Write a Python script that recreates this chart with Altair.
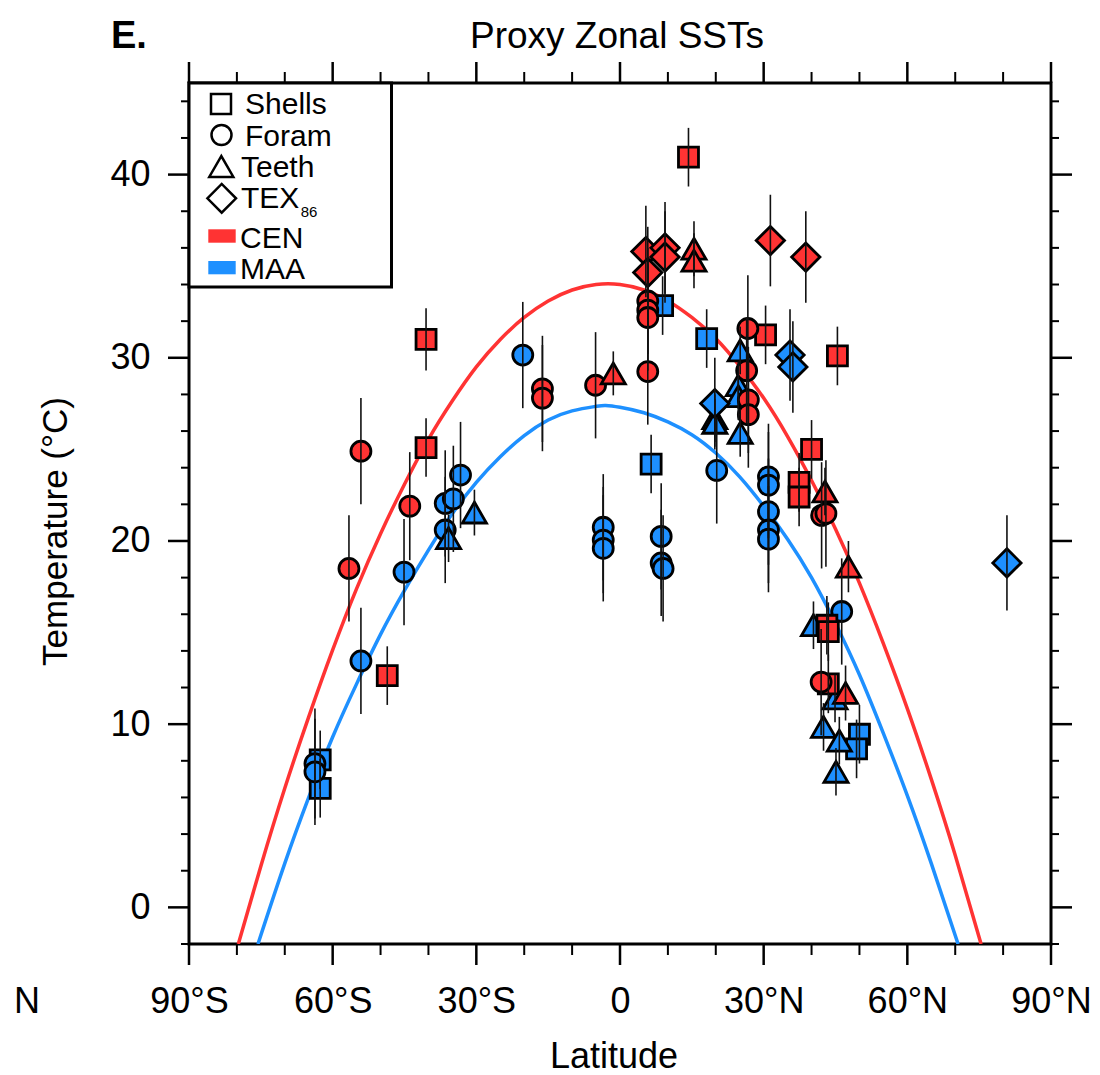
import altair as alt
import pandas as pd

# ---------------- proxy data ----------------
# MAA (blue)
maa_shells_lat = [-62.6, -62.6, 8.9, 18.1, 6.5, 50.0, 49.4]
maa_shells_temp = [8.05, 6.5, 32.85, 31.05, 24.2, 9.45, 8.65]
maa_shells_err = [1.6, 1.6, 1.6, 1.6, 1.6, 1.6, 1.6]

maa_foram_lat = [-63.7, -63.7, -54.1, -45.1, -36.5, -36.5, -34.8, -33.3, -20.3, -3.5, -3.5, -3.5,
                 8.6, 8.6, 9.0, 20.2, 31.0, 31.0, 31.0, 31.0, 31.0, 46.3]
maa_foram_temp = [7.85, 7.4, 13.45, 18.3, 22.05, 20.6, 22.3, 23.6, 30.15, 20.75, 20.05, 19.6,
                  20.25, 18.8, 18.5, 23.85, 23.5, 23.05, 21.6, 20.6, 20.1, 16.15]
maa_foram_err = [3.0, 2.9, 2.9, 2.9, 2.9, 2.9, 2.9, 2.9, 2.9, 2.9, 2.9, 2.9,
                 2.9, 2.9, 2.9, 2.9, 2.9, 2.9, 2.9, 2.9, 2.9, 2.9]

maa_teeth_lat = [-35.8, -30.4, 25.1, 24.7, 24.7, 25.1, 19.8, 19.8, 40.4, 44.9, 42.5, 45.8, 45.1]
maa_teeth_temp = [20.15, 21.55, 30.4, 28.5, 27.9, 25.9, 26.7, 26.45, 15.4, 11.4, 9.85, 9.1, 7.4]
maa_teeth_err = [1.3, 1.25, 1.3, 1.3, 1.3, 1.3, 1.3, 1.3, 1.3, 1.3, 1.3, 1.3, 1.3]

maa_tex_lat = [19.8, 35.5, 36.1, 80.8]
maa_tex_temp = [27.5, 30.15, 29.5, 18.8]
maa_tex_err = [2.5, 2.5, 2.5, 2.6]

# CEN (red)
cen_shells_lat = [-40.5, -40.5, -48.6, 14.3, 30.4, 45.4, 37.4, 37.4, 40.0, 43.2, 43.5, 43.5]
cen_shells_temp = [31.0, 25.1, 12.65, 40.95, 31.25, 30.1, 23.2, 22.4, 25.0, 15.4, 15.05, 12.2]
cen_shells_err = [1.7, 1.6, 1.6, 1.6, 1.6, 1.6, 1.6, 1.6, 1.6, 1.6, 1.6, 1.6]

cen_foram_lat = [-54.1, -56.6, -43.9, -16.2, -16.2, -5.1, 5.8, 5.8, 5.8, 5.8, 26.7, 26.45,
                 26.8, 26.8, 42.1, 43.0, 42.0]
cen_foram_temp = [24.9, 18.5, 21.9, 28.3, 27.8, 28.5, 33.1, 32.6, 32.2, 29.25, 31.6, 29.3,
                  27.7, 26.9, 21.4, 21.5, 12.3]
cen_foram_err = [2.9, 2.9, 2.95, 2.9, 2.9, 2.9, 2.9, 2.9, 2.9, 2.9, 2.9, 2.9,
                 2.9, 2.9, 2.9, 2.9, 2.9]

cen_teeth_lat = [-1.4, 15.45, 15.45, 42.8, 47.7, 47.1]
cen_teeth_temp = [29.15, 35.95, 35.3, 22.7, 18.6, 11.7]
cen_teeth_err = [1.2, 1.5, 1.5, 1.3, 1.4, 1.5]

cen_tex_lat = [5.4, 9.4, 9.4, 5.8, 31.4, 38.8]
cen_tex_temp = [35.8, 36.0, 35.5, 34.65, 36.4, 35.5]
cen_tex_err = [2.5, 2.5, 2.5, 2.5, 2.5, 2.5]

# fitted zonal curves
cen_curve_lat = [-79.7, -75, -70, -65, -60, -55, -50, -45, -40, -35, -30, -25, -20, -15, -10, -5,
                 0, 5, 10, 15, 20, 25, 30, 35, 40, 45, 50, 55, 60, 65, 70, 75.4]
cen_curve_temp = [-2, 2.25, 6.5, 10.4, 14.05, 17.4, 20.4, 23.1, 25.55, 27.65, 29.5, 31.0, 32.2,
                  33.1, 33.7, 34.0, 34.0, 33.7, 33.1, 32.2, 31.05, 29.55, 27.8, 25.7, 23.3,
                  20.65, 17.7, 14.4, 10.85, 7.0, 2.85, -2]
maa_curve_lat = [-75.6, -70, -65, -60, -55, -50, -45, -40, -35, -30, -25, -20, -15, -10, -5, -3,
                 0, 5, 10, 15, 20, 25, 30, 35, 40, 45, 50, 55, 60, 65, 70.6]
maa_curve_temp = [-2, 2.4, 6.0, 9.3, 12.2, 14.9, 17.3, 19.5, 21.5, 23.2, 24.6, 25.75, 26.6, 27.1,
                  27.35, 27.4, 27.3, 27.0, 26.5, 25.8, 24.8, 23.5, 21.9, 20.1, 18.0, 15.5, 12.7,
                  9.5, 6.1, 2.4, -2]

periods = ["CEN", "MAA"]
period_colors = ["#FF3333", "#1E90FF"]
proxies = ["Shells", "Foram", "Teeth", "TEX86"]
proxy_shapes = ["square", "circle", "triangle-up", "diamond"]
proxy_sizes = [400, 400, 580, 800]

x_major_ticks = [-90, -60, -30, 0, 30, 60, 90]
x_minor_ticks = [-80, -70, -50, -40, -20, -10, 10, 20, 40, 50, 70, 80]
y_major_ticks = [0, 10, 20, 30, 40]
y_minor_ticks = [-2, 2, 4, 6, 8, 12, 14, 16, 18, 22, 24, 26, 28, 32, 34, 36, 38, 42, 44]

# ---------------- tables ----------------
groups = [
    ("MAA", "Shells", maa_shells_lat, maa_shells_temp, maa_shells_err),
    ("MAA", "Foram", maa_foram_lat, maa_foram_temp, maa_foram_err),
    ("MAA", "Teeth", maa_teeth_lat, maa_teeth_temp, maa_teeth_err),
    ("MAA", "TEX86", maa_tex_lat, maa_tex_temp, maa_tex_err),
    ("CEN", "Shells", cen_shells_lat, cen_shells_temp, cen_shells_err),
    ("CEN", "Foram", cen_foram_lat, cen_foram_temp, cen_foram_err),
    ("CEN", "Teeth", cen_teeth_lat, cen_teeth_temp, cen_teeth_err),
    ("CEN", "TEX86", cen_tex_lat, cen_tex_temp, cen_tex_err),
]
shape_of = dict(zip(proxies, proxy_shapes))
size_of = dict(zip(proxies, proxy_sizes))
rows = []
order = 0
for per, prx, la, te, er in groups:
    for a, t, e in zip(la, te, er):
        rows.append({"lat": a, "temp": t, "lo": t - e, "hi": t + e,
                     "proxy": prx, "period": per, "ord": order,
                     "shp": shape_of[prx], "sz": size_of[prx]})
        order += 1
pts = pd.DataFrame(rows)

curves = pd.concat([
    pd.DataFrame({"lat": cen_curve_lat, "temp": cen_curve_temp, "period": "CEN"}),
    pd.DataFrame({"lat": maa_curve_lat, "temp": maa_curve_temp, "period": "MAA"}),
])

W, H = 862, 861
FONT = "Liberation Sans"

xscale = alt.Scale(domain=[-90, 90], nice=False, zero=False)
yscale = alt.Scale(domain=[-2, 45], nice=False, zero=False)
xaxis = alt.Axis(values=x_major_ticks, ticks=False, domain=False, grid=False, title=None,
                 labelFont=FONT, labelFontSize=36, labelColor="black", labelPadding=40,
                 labelFlush=False, labelOverlap=False,
                 labelExpr="datum.value == 0 ? '0' : (abs(datum.value) + '°' + (datum.value < 0 ? 'S' : 'N'))")
yaxis = alt.Axis(values=y_major_ticks, ticks=False, domain=False, grid=False, title=None,
                 labelFont=FONT, labelFontSize=36, labelColor="black", labelPadding=39,
                 labelFlush=False, labelOverlap=False)


def X(f):
    return alt.X(f, type="quantitative", scale=xscale, axis=xaxis)


def Y(f):
    return alt.Y(f, type="quantitative", scale=yscale, axis=yaxis)


color_scale = alt.Scale(domain=periods, range=period_colors)

curve_layer = alt.Chart(curves).mark_line(strokeWidth=3.5, interpolate="natural", clip=True).encode(
    x=X("lat"), y=Y("temp"),
    color=alt.Color("period:N", scale=color_scale, legend=None),
)

point_layer = alt.Chart(pts).mark_point(filled=True, stroke="black", strokeWidth=2.8, opacity=1).encode(
    x=X("lat"), y=Y("temp"),
    fill=alt.Fill("period:N", scale=color_scale, legend=None),
    shape=alt.Shape("shp:N", scale=None, legend=None),
    size=alt.Size("sz:Q", scale=None, legend=None),
    order=alt.Order("ord:Q"),
)

err_layer = alt.Chart(pts).mark_rule(color="#111111", strokeWidth=1.6).encode(
    x=X("lat"), y=Y("lo"), y2="hi",
)

# ---------------- axis ticks (outside, all four sides) ----------------
def xticks(vals, length, width):
    d = pd.DataFrame({"v": vals})
    bottom = alt.Chart(d).mark_rule(color="black", strokeWidth=width).encode(
        x=X("v"), y=alt.value(H), y2=alt.value(H + length))
    top = alt.Chart(d).mark_rule(color="black", strokeWidth=width).encode(
        x=X("v"), y=alt.value(0), y2=alt.value(-length))
    return [bottom, top]


def yticks(vals, length, width):
    d = pd.DataFrame({"v": vals})
    left = alt.Chart(d).mark_rule(color="black", strokeWidth=width).encode(
        y=Y("v"), x=alt.value(0), x2=alt.value(-length))
    right = alt.Chart(d).mark_rule(color="black", strokeWidth=width).encode(
        y=Y("v"), x=alt.value(W), x2=alt.value(W + length))
    return [left, right]


tick_layers = (xticks(x_major_ticks, 21, 2.5) + xticks(x_minor_ticks, 11, 2)
               + yticks(y_major_ticks, 21, 2.5) + yticks(y_minor_ticks, 8, 2))

# ---------------- legend (drawn box, top-left) ----------------
legend_box = alt.Chart(pd.DataFrame({"a": [0]})).mark_rect(
    fill="white", stroke="black", strokeWidth=3).encode(
    x=alt.value(0), x2=alt.value(202.5), y=alt.value(0), y2=alt.value(204))

leg_sym = pd.DataFrame({
    "shape": proxy_shapes,
    "px": [32, 32.5, 32.3, 32.7],
    "py": [21, 52, 83.5, 115.3],
    "sz": [400, 400, 580, 820],
})
legend_symbols = alt.Chart(leg_sym).mark_point(
    filled=True, fill="white", stroke="black", strokeWidth=2.5, opacity=1).encode(
    x=alt.X("px:Q", scale=None, axis=None), y=alt.Y("py:Q", scale=None, axis=None),
    shape=alt.Shape("shape:N", scale=None, legend=None),
    size=alt.Size("sz:Q", scale=None, legend=None),
)

leg_bar = pd.DataFrame({
    "period": periods,
    "x0": [19.3, 19.3], "x1": [46.7, 46.7],
    "y0": [146.3, 178.0], "y1": [159.7, 191.3],
})
legend_bars = alt.Chart(leg_bar).mark_rect().encode(
    x=alt.X("x0:Q", scale=None, axis=None), x2="x1:Q",
    y=alt.Y("y0:Q", scale=None, axis=None), y2="y1:Q",
    color=alt.Color("period:N", scale=color_scale, legend=None),
)

leg_txt = pd.DataFrame({
    "label": ["Shells", "Foram", "Teeth", "TEX", "CEN", "MAA"],
    "px": [56, 56, 52, 52, 51, 51],
    "py": [31, 63, 93.7, 125.3, 164.7, 196],
})
legend_text = alt.Chart(leg_txt).mark_text(
    font=FONT, fontSize=30, align="left", baseline="alphabetic", color="black").encode(
    x=alt.X("px:Q", scale=None, axis=None), y=alt.Y("py:Q", scale=None, axis=None),
    text="label:N",
)
legend_sub = alt.Chart(pd.DataFrame({"t": ["86"]})).mark_text(
    font=FONT, fontSize=15, align="left", baseline="alphabetic", color="black").encode(
    x=alt.value(111.7), y=alt.value(133.7), text="t:N")

# ---------------- titles ----------------
def label(txt, x, y, size, **kw):
    return alt.Chart(pd.DataFrame({"t": [txt]})).mark_text(
        font=FONT, fontSize=size, color="black", baseline="alphabetic", **kw).encode(
        x=alt.value(x), y=alt.value(y), text="t:N")


title = label("Proxy Zonal SSTs", 428, -35, 37, align="center")
panel = label("E.", -78, -35, 38, align="left", fontWeight="bold")
xtitle = label("Latitude", 425, 985, 36, align="center")
ytitle = label("Temperature (°C)", -122, 448.5, 35, align="center", angle=270)
stray_n = label("N", -175, 930, 36, align="left")

chart = alt.layer(
    curve_layer, point_layer, err_layer, *tick_layers,
    legend_box, legend_symbols, legend_bars, legend_text, legend_sub,
    title, panel, xtitle, ytitle, stray_n,
).properties(
    width=W, height=H,
    padding={"left": 189, "top": 83, "right": 49, "bottom": 131},
    autosize=alt.AutoSizeParams(type="none"),
    background="white",
).configure_view(stroke="black", strokeWidth=3)

chart.save("out.html", embed_options={"renderer": "svg", "actions": False})
